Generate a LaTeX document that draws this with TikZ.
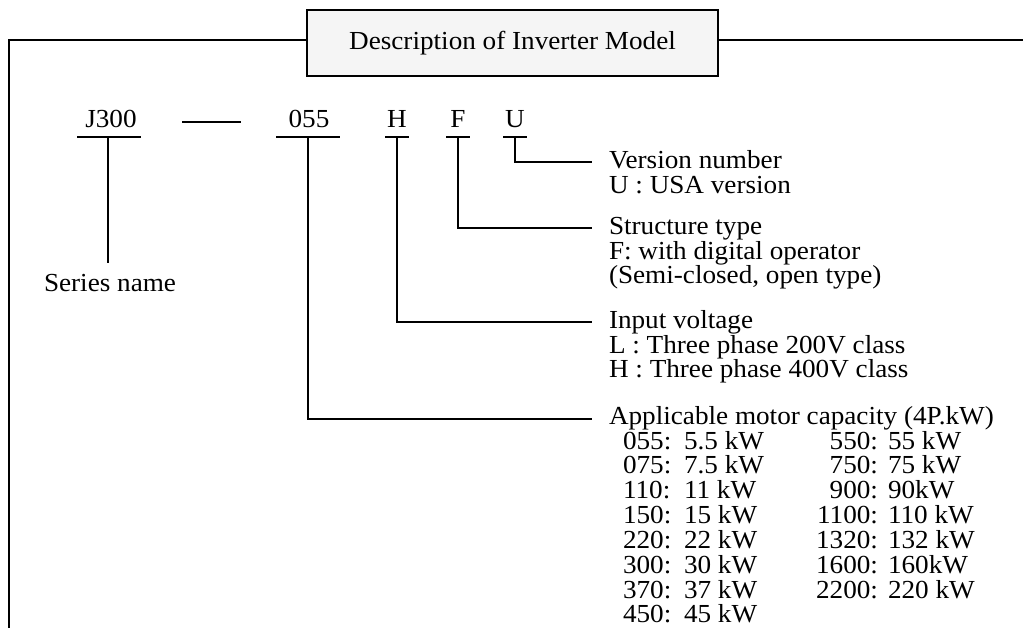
\documentclass[tikz,border=0pt]{standalone}
\usepackage{fontspec}
\setmainfont{Liberation Serif}[FakeStretch=1.045]
\begin{document}
\begin{tikzpicture}[x=1pt,y=-1pt,
  every node/.style={font=\fontsize{26}{24.7}\selectfont, inner sep=0pt, outer sep=0pt},
  txt/.style={anchor=base west},
  codetxt/.style={anchor=base},
  framepath/.style={line width=2.6pt},
  titlebox/.style={draw, line width=2.3pt, fill=black!4, minimum width=411pt, minimum height=66pt},
  lead/.style={line width=1.1pt}]
\useasboundingbox (0,0) rectangle (1023,628);
% frame
\node[titlebox] (title) at (512.5,43) {Description of Inverter Model};
\coordinate (fb) at (9,629);
\coordinate (ft) at (9,40);
\coordinate (fr) at (1024,40);
\draw[framepath] (fb) -- (ft) -- (ft -| title.west);
\draw[framepath] (title.east |- ft) -- (fr);
% code
\node[codetxt] (j300) at (111,128) {J300};
\node[codetxt] (c055) at (309,128) {055};
\node[codetxt] (cH) at (397,128) {H};
\node[codetxt] (cF) at (458,128) {F};
\node[codetxt] (cU) at (515,128) {U};
\coordinate (dA) at (182,122);
\coordinate (dB) at (241,122);
\draw[lead] (dA) -- (dB);
% underlines
\draw[lead] (77,137) coordinate (jl) -- (141,137) coordinate (jr);
\draw[lead] (276,137) coordinate (ol) -- (340,137) coordinate (or);
\draw[lead] (385,137) coordinate (hl) -- (409,137) coordinate (hr);
\draw[lead] (446,137) coordinate (fl) -- (470,137) coordinate (fr2);
\draw[lead] (503,137) coordinate (ul) -- (527,137) coordinate (ur);
% series name
\coordinate (jt) at (108,137);
\coordinate (jb) at (108,263);
\draw[lead] (jt) -- (jb);
\node[txt] (series) at (44,292) {Series name};
% leaders
\coordinate (uT) at (515,137); \coordinate (uE) at (592,162);
\coordinate (fT) at (458,137); \coordinate (fE) at (592,228);
\coordinate (hT) at (397,137); \coordinate (hE) at (592,322);
\coordinate (oT) at (308,137); \coordinate (oE) at (592,419);
\draw[lead] (uT) |- (uE);
\draw[lead] (fT) |- (fE);
\draw[lead] (hT) |- (hE);
\draw[lead] (oT) |- (oE);
% descriptions
\node[txt] (v1) at (609,169) {Version number};
\node[txt] (v2) at (609,193.5) {U : USA version};
\node[txt] (s1) at (609,235) {Structure type};
\node[txt] (s2) at (609,259.5) {F: with digital operator};
\node[txt] (s3) at (609,284) {(Semi-closed, open type)};
\node[txt] (i1) at (609,328.5) {Input voltage};
\node[txt] (i2) at (609,353) {L : Three phase 200V class};
\node[txt] (i3) at (609,377.5) {H : Three phase 400V class};
\node[txt] (a1) at (609,424) {Applicable motor capacity (4P.kW)};
\foreach \n/\v [count=\k from 0] in {055/5.5 kW,075/7.5 kW,110/11 kW,150/15 kW,220/22 kW,300/30 kW,370/37 kW,450/45 kW}{
  \node[anchor=base west] (ln\k) at (623,449+24.85*\k) {\n:};
  \node[anchor=base west] (lv\k) at (684,449+24.85*\k) {\v};
}
\foreach \n/\v [count=\k from 0] in {550/55 kW,750/75 kW,900/90kW,1100/110 kW,1320/132 kW,1600/160kW,2200/220 kW}{
  \node[anchor=base east] (rn\k) at (878,449+24.85*\k) {\n:};
  \node[anchor=base west] (rv\k) at (888,449+24.85*\k) {\v};
}
\end{tikzpicture}
\end{document}
